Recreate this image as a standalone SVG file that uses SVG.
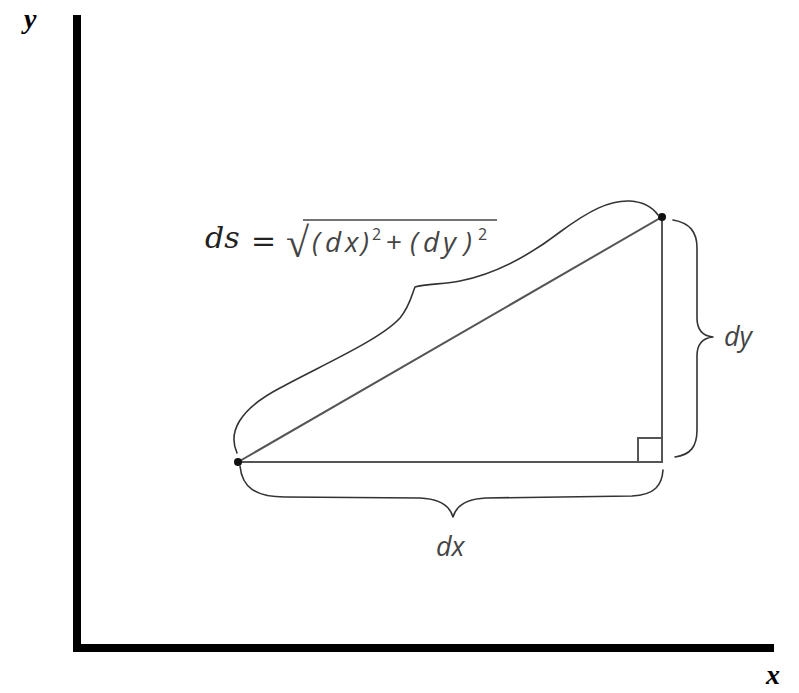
<svg xmlns="http://www.w3.org/2000/svg" width="799" height="693" viewBox="0 0 799 693">
<style>
.axis{stroke:#000;stroke-width:8;fill:none;stroke-linecap:butt}
.tri{stroke:#555;stroke-width:2;fill:none}
.brace{stroke:#333;stroke-width:1.6;fill:none;stroke-linecap:round;stroke-linejoin:round}
.ax{font-family:"Liberation Serif",serif;font-style:italic;font-weight:bold;font-size:28px;fill:#000}
.lbl{font-family:"Open Sans","Noto Sans",sans-serif;font-style:italic;font-size:27px;fill:#444}
.ds{font-family:"DejaVu Serif",serif;font-style:italic;font-size:30px;fill:#222}
.eq{font-family:"DejaVu Serif",serif;font-size:30px;fill:#222}
.rad{font-family:"Liberation Serif",serif;font-size:42px;fill:#444}
.f{font-family:"Open Sans","Noto Sans",sans-serif;font-style:italic;font-size:28px;fill:#444}
.sup{font-family:"Open Sans","Noto Sans",sans-serif;font-size:16px;fill:#444}
</style>
<rect width="799" height="693" fill="#fff"/>
<g id="axes">
<path class="axis" d="M77,15 L77,652 M73,648 L774,648"/>
<text class="ax" x="24" y="28">y</text>
<text class="ax" x="766" y="684">x</text>
</g>
<g id="triangle">
<path class="tri" d="M238,462 L662,217 L662,462 Z"/>
<path class="tri" d="M638,462 L638,438 L662,438"/>
<circle cx="238" cy="462" r="4" fill="#111"/>
<circle cx="662" cy="217" r="4" fill="#111"/>
</g>
<g id="connectors">
<path class="brace" d="M237,453 C228,433 238,410 280,388 C320,366 380,340 400,318 C410,306 412,294 415,287 C425,284 445,284 460,281 C495,274 530,255 560,232 C590,210 610,200 630,201 C645,202 653,208 658,215"/>
<path class="brace" d="M673,220 C690,223 697,232 697,248 L697,318 C697,330 703,336 713,337 C703,338 697,344 697,356 L697,430 C697,447 690,455 675,457"/>
<path class="brace" d="M240,466 C242,487 255,497 285,497 L420,498 C440,499 450,506 453,517 C456,506 466,499 486,498 L632,496 C655,495 662,485 663,470"/>
</g>
<g id="ds-label">
<text class="ds" x="205" y="248">ds</text>
<text class="eq" x="251" y="251">=</text>
<text class="rad" x="286" y="257">√</text>
<line x1="303" y1="220" x2="497" y2="220" stroke="#444" stroke-width="1.5"/>
<text class="f" y="252"><tspan x="312">(</tspan><tspan x="325">d</tspan><tspan x="345">x</tspan><tspan x="361">)</tspan><tspan x="386" font-style="normal">+</tspan><tspan x="410">(</tspan><tspan x="423">d</tspan><tspan x="443">y</tspan><tspan x="464">)</tspan></text>
<text class="sup" x="372" y="240">2</text>
<text class="sup" x="478" y="240">2</text>
</g>
<g id="dy-label"><text class="lbl" x="724" y="346">dy</text></g>
<g id="dx-label"><text class="lbl" x="436" y="556">dx</text></g>
</svg>
